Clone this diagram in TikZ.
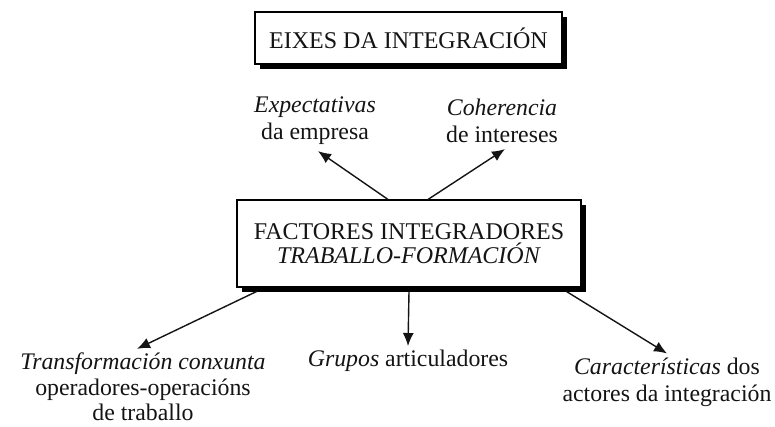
\documentclass[tikz,border=0pt]{standalone}
\usepackage{fontspec}
\setmainfont{Liberation Serif}
\usetikzlibrary{arrows.meta,shadows}
\begin{document}
\begin{tikzpicture}[x=1pt,y=-1pt,
  box/.style={draw=black, line width=1.1pt, fill=white, inner sep=0pt, align=center,
    text=black!92,
    drop shadow={shadow xshift=4.5pt, shadow yshift=-4.5pt, opacity=1, fill=black}},
  lbl/.style={align=center, font=\fontsize{23.8}{27}\selectfont, inner sep=0pt, text=black!92},
  arr/.style={line width=1.4pt, draw=black!92, -{Latex[length=13pt,width=11pt]}},
]
\useasboundingbox[fill=white] (0,0) rectangle (775,426);
\node[box, minimum width=307pt, minimum height=52pt, font=\fontsize{24}{28}\selectfont] (top) at (408.5,38) {EIXES DA INTEGRACIÓN};
\node[box, minimum width=344pt, minimum height=87pt, font=\fontsize{24}{24.5}\selectfont] (mid) at (409,243.5) {FACTORES INTEGRADORES\\\textit{TRABALLO-FORMACIÓN}};

\node[lbl] (exp) at (315,121) {\textit{Expectativas}\\da empresa};
\node[lbl] (coh) at (502,121) {\textit{Coherencia}\\de intereses};

\node[lbl, font=\fontsize{23.8}{25.5}\selectfont] (tra) at (143,387) {\textit{Transformación conxunta}\\operadores-operacións\\de traballo};
\node[lbl] (gru) at (408,361) {\textit{Grupos} articuladores};
\node[lbl] (car) at (667,382) {\textit{Características} dos\\actores da integración};

\draw[arr] ([xshift=-21pt]mid.north) -- ([xshift=3pt,yshift=-6pt]exp.south);
\draw[arr] ([xshift=19pt]mid.north) -- ([xshift=3pt,yshift=-6pt]coh.south);
\draw[arr] ([xshift=20pt,yshift=-4pt]mid.south west) -- ([xshift=-6pt,yshift=4pt]tra.north);
\draw[arr] ([yshift=-4pt]mid.south) -- ([yshift=4pt]gru.north);
\draw[arr] ([xshift=-15pt,yshift=-4pt]mid.south east) -- ([xshift=0pt,yshift=4pt]car.north);
\end{tikzpicture}
\end{document}
